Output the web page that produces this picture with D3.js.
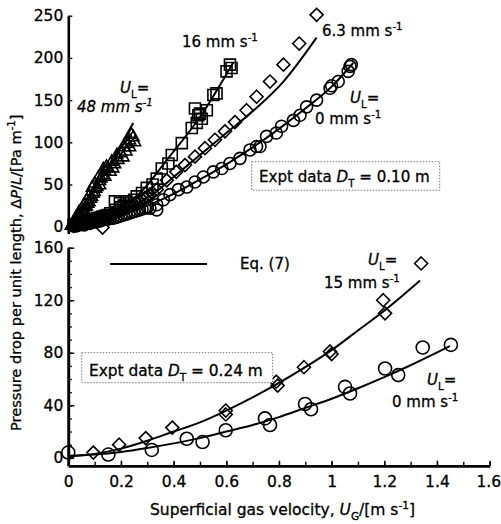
<!DOCTYPE html>
<html>
<head>
<meta charset="utf-8">
<script src="https://cdn.jsdelivr.net/npm/d3@7"></script>
<style>
body { margin: 0; background: #fff; }
svg text { font-family: "DejaVu Sans", sans-serif; fill: #000; stroke: #000; stroke-width: 0.3px; }
</style>
</head>
<body>
<svg id="chart" width="501" height="524"></svg>
<script>
// ---- data: [U_G in m/s, dP/L in Pa/m] ----

// top panel, D_T = 0.10 m
var top48 = [[0.01,2],[0.015,4],[0.02,5],[0.025,7],[0.03,9],[0.03,12],[0.035,11],[0.04,13],[0.04,18],
	[0.045,16],[0.05,15],[0.05,22],[0.055,19],[0.06,20],[0.06,27],[0.065,24],[0.07,25],[0.07,32],
	[0.075,28],[0.08,30],[0.08,38],[0.085,34],[0.09,36],[0.09,47],[0.095,40],[0.1,42],[0.1,52],
	[0.105,46],[0.11,48],[0.114,59],[0.12,50],[0.12,55],[0.125,58],[0.13,62],[0.133,69],[0.139,67],
	[0.14,60],[0.145,72],[0.15,70],[0.16,66],[0.165,78],[0.17,70],[0.177,75],[0.185,86],[0.19,80],
	[0.2,88],[0.209,83],[0.215,95],[0.22,90],[0.225,99],[0.234,95],[0.234,103],[0.24,110],[0.247,107],[0.253,101]];
var top16 = [[0.02,2],[0.03,3],[0.04,3],[0.05,4],[0.06,5],[0.07,6],[0.08,7],[0.09,8],[0.1,9],[0.11,10],
	[0.12,11],[0.13,12],[0.14,13],[0.15,14],[0.16,16],[0.177,30],[0.18,20],[0.196,28],[0.2,23],[0.21,25],
	[0.22,30],[0.23,28],[0.25,32],[0.26,36],[0.28,40],[0.298,46],[0.32,50],[0.336,57],[0.355,69],
	[0.38,75],[0.393,85],[0.431,99],[0.469,117],[0.488,123],[0.494,132],[0.5,134],[0.481,140],
	[0.507,128],[0.526,138],[0.551,156],[0.563,158],[0.601,184],[0.614,192],[0.62,188]];
var top63 = [[0.02,1],[0.03,2],[0.04,3],[0.05,4],[0.06,4],[0.07,5],[0.08,6],[0.09,7],[0.1,8],[0.11,9],
	[0.12,10],[0.13,-1],[0.13,10],[0.14,12],[0.15,13],[0.16,14],[0.17,15],[0.18,17],[0.19,18],[0.2,19],
	[0.21,21],[0.22,22],[0.23,24],[0.24,25],[0.25,27],[0.26,28],[0.27,30],[0.28,32],[0.29,34],[0.3,36],
	[0.31,38],[0.32,40],[0.336,44],[0.374,55],[0.41,65],[0.443,73],[0.481,83],[0.519,93],[0.557,103],
	[0.595,113],[0.633,124],[0.677,138],[0.715,154],[0.766,172],[0.817,192],[0.877,217],[0.943,251]];
var top0 = [[0.02,1],[0.03,1],[0.04,2],[0.05,3],[0.06,2],[0.07,4],[0.08,4],[0.09,5],[0.1,6],[0.11,6],
	[0.12,7],[0.13,8],[0.14,9],[0.15,9],[0.16,10],[0.17,10],[0.18,11],[0.19,12],[0.2,13],[0.21,14],
	[0.22,15],[0.23,16],[0.24,17],[0.25,18],[0.26,19],[0.27,20],[0.28,21],[0.29,22],[0.3,23],[0.31,22],
	[0.336,20],[0.336,26],[0.361,32],[0.386,38],[0.418,44],[0.45,47],[0.481,53],[0.513,59],[0.551,65],
	[0.583,69],[0.614,75],[0.652,81],[0.69,91],[0.715,95],[0.728,95],[0.753,107],[0.79,111],[0.81,119],
	[0.855,126],[0.88,132],[0.905,142],[0.943,150],[0.994,164],[1.0,167],[1.025,172],[1.063,184],
	[1.07,190],[1.075,192]];

// Eq. (7) curves, top panel
var eqTop48 = [[0,0],[0.06,25],[0.127,59],[0.19,92],[0.247,123]];
var eqTop16 = [[0,0],[0.1,7],[0.158,16],[0.272,40],[0.374,79],[0.5,130],[0.627,195]];
var eqTop63 = [[0,0],[0.1,8],[0.2,20],[0.31,36],[0.4,59],[0.5,85],[0.6,111],[0.69,134],[0.817,172],[0.943,224]];
var eqTop0 = [[0,0],[0.1,6],[0.2,14],[0.3,25],[0.4,39],[0.5,56],[0.6,74],[0.7,94],[0.8,116],[0.9,140],[1.0,166],[1.082,194]];

// bottom panel, D_T = 0.24 m
var bot15 = [[0.095,4],[0.193,10],[0.294,15],[0.395,23],[0.598,36],[0.598,33],[0.79,58],[0.795,55],
	[0.895,69],[0.994,81],[1.0,79],[1.196,120],[1.203,110],[1.34,148]];
var bot0 = [[0,4],[0.152,2.5],[0.317,6],[0.45,14.5],[0.51,12],[0.598,21],[0.747,30],[0.766,25],
	[0.899,41],[0.922,37],[1.051,54],[1.07,49],[1.203,68],[1.253,63],[1.346,84],[1.453,86]];
var eqBot15 = [[0,1],[0.1,3],[0.2,7],[0.3,13],[0.4,20],[0.5,27],[0.6,36],[0.7,46],[0.8,57],[0.9,69],
	[1.0,82],[1.1,97],[1.2,112],[1.336,135]];
var eqBot0 = [[0,1.5],[0.1,2.5],[0.2,4.5],[0.3,7.5],[0.4,11],[0.5,15],[0.6,20],[0.7,25],[0.8,31],
	[0.9,38],[1.0,45],[1.1,53],[1.2,61.5],[1.3,70.5],[1.449,85]];

var xTicks = [0, 0.2, 0.4, 0.6, 0.8, 1, 1.2, 1.4, 1.6];
var yTopTicks = [0, 50, 100, 150, 200, 250];
var yBotTicks = [0, 40, 80, 120, 160];

// ---- scales ----
var svg = d3.select("#chart");
var x = d3.scaleLinear().domain([0, 1.6]).range([68.3, 489.6]);
var yTop = d3.scaleLinear().domain([-8, 250]).range([233.5, 15.7]);
var yBot = d3.scaleLinear().domain([-6, 160]).range([465.7, 247.7]);

// ---- axes ----
function styleAxis(g) {
	g.select(".domain").attr("stroke", "#000").attr("stroke-width", 2.6);
	g.selectAll(".tick line").attr("stroke", "#000").attr("stroke-width", 1.4);
	g.selectAll(".tick text").attr("font-size", 15.5).attr("font-family", "DejaVu Sans").attr("fill", "#000");
}

// top y axis
svg.append("g")
	.attr("transform", "translate(" + x(0) + ",0)")
	.call(d3.axisLeft(yTop).tickValues(yTopTicks).tickSize(-4).tickSizeOuter(0).tickPadding(5))
	.call(styleAxis);

// bottom y axis, minor then major
svg.append("g")
	.attr("transform", "translate(" + x(0) + ",0)")
	.call(d3.axisLeft(yBot).tickValues(d3.range(0, 161, 10)).tickSize(-3.5).tickSizeOuter(0).tickFormat(""))
	.call(styleAxis);
svg.append("g")
	.attr("transform", "translate(" + x(0) + ",0)")
	.call(d3.axisLeft(yBot).tickValues(yBotTicks).tickSize(-6).tickSizeOuter(0).tickPadding(5))
	.call(styleAxis);

// x axis
svg.append("g")
	.attr("transform", "translate(0," + yBot(-6) + ")")
	.call(d3.axisBottom(x).tickValues(d3.range(0, 1.61, 0.1)).tickSize(-4).tickSizeOuter(0).tickFormat(""))
	.call(styleAxis);
var xAxisG = svg.append("g")
	.attr("transform", "translate(0," + yBot(-6) + ")")
	.call(d3.axisBottom(x).tickValues(xTicks).tickSize(-5).tickSizeOuter(0).tickPadding(10)
		.tickFormat(function(d) { return String(+d.toFixed(1)); }))
	.call(styleAxis);
// last label sits against the page edge, as in the figure
xAxisG.selectAll(".tick text").filter(function(d) { return d == 1.6; }).attr("text-anchor", "end").attr("x", 11);

// ---- Eq. (7) lines ----
function drawLine(data, y) {
	svg.append("path")
		.datum(data)
		.attr("fill", "none")
		.attr("stroke", "#000")
		.attr("stroke-width", 2)
		.attr("d", d3.line().x(function(d) { return x(d[0]); }).y(function(d) { return y(d[1]); })
			.curve(d3.curveMonotoneX));
}
drawLine(eqTop48, yTop);
drawLine(eqTop16, yTop);
drawLine(eqTop63, yTop);
drawLine(eqTop0, yTop);
drawLine(eqBot15, yBot);
drawLine(eqBot0, yBot);

// ---- markers ----
function diamondPath(r) { return "M0," + (-r) + "L" + r + ",0L0," + r + "L" + (-r) + ",0Z"; }
function squarePath(r) { return "M" + (-r) + "," + (-r) + "H" + r + "V" + r + "H" + (-r) + "Z"; }
function trianglePath(r) { return "M0," + (-r) + "L" + (r * 0.95) + "," + (r * 0.7) + "L" + (-r * 0.95) + "," + (r * 0.7) + "Z"; }

function drawMarkers(data, y, shape, size) {
	var g = svg.append("g");
	data.forEach(function(d) {
		if (shape == "circle") {
			g.append("circle")
				.attr("cx", x(d[0]))
				.attr("cy", y(d[1]))
				.attr("r", size)
				.attr("fill", "none")
				.attr("stroke", "#000")
				.attr("stroke-width", 1.6);
		} else {
			var p = shape == "diamond" ? diamondPath(size) : shape == "square" ? squarePath(size) : trianglePath(size);
			g.append("path")
				.attr("transform", "translate(" + x(d[0]) + "," + y(d[1]) + ")")
				.attr("d", p)
				.attr("fill", "none")
				.attr("stroke", "#000")
				.attr("stroke-width", 1.6);
		}
	});
}
drawMarkers(top48, yTop, "triangle", 6);
drawMarkers(top16, yTop, "square", 5.5);
drawMarkers(top63, yTop, "diamond", 6.5);
drawMarkers(top0, yTop, "circle", 6);
drawMarkers(bot15, yBot, "diamond", 6.5);
drawMarkers(bot0, yBot, "circle", 6.5);

// ---- text labels ----
// parts: [text, kind] kind: "", "i" italic, "sub", "sup"
function label(px, py, parts, size, italic) {
	var t = svg.append("text")
		.attr("x", px)
		.attr("y", py)
		.attr("font-size", size);
	if (italic) t.attr("font-style", "italic");
	var shift = 0;
	parts.forEach(function(p) {
		var s = t.append("tspan").text(p[0]);
		var want = 0;
		if (p[1] == "sub") { want = size * 0.3; s.attr("font-size", size * 0.68); }
		if (p[1] == "sup") { want = -size * 0.4; s.attr("font-size", size * 0.68); }
		if (p[1] == "i") s.attr("font-style", "italic");
		if (want != shift) { s.attr("dy", want - shift); shift = want; }
	});
	return t;
}
// same, but font size chosen so the text is `width` px long
function fitLabel(px, py, parts, size, width) {
	var t = label(px, py, parts, size);
	var w = t.node().getComputedTextLength();
	if (w > 0) {
		t.remove();
		t = label(px, py, parts, size * width / w);
	}
	return t;
}

var ulParts = [["U", "i"], ["L", "sub"], ["=", ""]];
function mms(v) { return [[v + " mm s", ""], ["-1", "sup"]]; }

label(120, 93, ulParts, 15);
label(77, 112, mms("48"), 15, true);
label(182, 47, mms("16"), 15);
label(322, 36, mms("6.3"), 15);
label(350, 103, ulParts, 15);
label(315, 124, mms("0"), 15);

label(368, 265, ulParts, 15);
label(324, 288, mms("15"), 15);
label(427, 385, ulParts, 15);
label(392, 407, mms("0"), 15);

// boxes
function exptBox(bx, by, bw, bh, tx, ty, val) {
	svg.append("rect")
		.attr("x", bx).attr("y", by).attr("width", bw).attr("height", bh)
		.attr("fill", "#fff")
		.attr("stroke", "#777")
		.attr("stroke-width", 1)
		.attr("stroke-dasharray", "1.5,1.5");
	fitLabel(tx, ty, [["Expt data ", ""], ["D", "i"], ["T", "sub"], [" = " + val + " m", ""]], 16, bw - 17);
}
exptBox(251.7, 161.7, 188, 28.5, 259, 182, "0.10");
exptBox(81.7, 352.7, 191, 30, 89, 376, "0.24");

// legend
svg.append("line")
	.attr("x1", 110).attr("x2", 207).attr("y1", 264).attr("y2", 264)
	.attr("stroke", "#000").attr("stroke-width", 2);
label(240, 269, [["Eq. (7)", ""]], 15);

// axis titles
label(150, 515, [["Superficial gas velocity, ", ""], ["U", "i"], ["G", "sub"], ["/[m s", ""], ["-1", "sup"], ["]", ""]], 15.5);
label(0, 0, [["Pressure drop per unit length, \u0394", ""], ["P", "i"], ["/", ""], ["L", "i"], ["/[Pa m", ""], ["-1", "sup"], ["]", ""]], 14.6)
	.attr("transform", "translate(21,431) rotate(-90)");
</script>
</body>
</html>
